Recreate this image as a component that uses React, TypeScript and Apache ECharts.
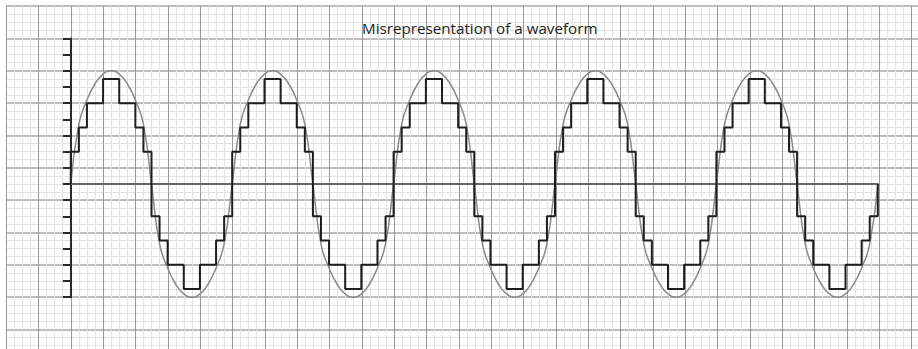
import React, { useEffect, useRef } from "react";
import * as echarts from "echarts";

const TITLE = "Misrepresentation of a waveform";

// Analog waveform, one value per minor grid division (x = 0..100), in vertical-tick units
const analogWave: number[] = [
  0, 3.7, 5.2, 6.2, 6.8, 7, 6.8, 6.2, 5.2, 3.7, 0, -3.7, -5.2, -6.2, -6.8, -7, -6.8, -6.2, -5.2, -3.7,
  0, 3.7, 5.2, 6.2, 6.8, 7, 6.8, 6.2, 5.2, 3.7, 0, -3.7, -5.2, -6.2, -6.8, -7, -6.8, -6.2, -5.2, -3.7,
  0, 3.7, 5.2, 6.2, 6.8, 7, 6.8, 6.2, 5.2, 3.7, 0, -3.7, -5.2, -6.2, -6.8, -7, -6.8, -6.2, -5.2, -3.7,
  0, 3.7, 5.2, 6.2, 6.8, 7, 6.8, 6.2, 5.2, 3.7, 0, -3.7, -5.2, -6.2, -6.8, -7, -6.8, -6.2, -5.2, -3.7,
  0, 3.7, 5.2, 6.2, 6.8, 7, 6.8, 6.2, 5.2, 3.7, 0, -3.7, -5.2, -6.2, -6.8, -7, -6.8, -6.2, -5.2, -3.7,
  0,
];

// Quantized (sample-and-hold) levels, held over each minor division
const quantizedLevels: number[] = [
  2, 3.5, 5, 5, 6.5, 6.5, 5, 5, 3.5, 2, -2, -3.5, -5, -5, -6.5, -6.5, -5, -5, -3.5, -2,
  2, 3.5, 5, 5, 6.5, 6.5, 5, 5, 3.5, 2, -2, -3.5, -5, -5, -6.5, -6.5, -5, -5, -3.5, -2,
  2, 3.5, 5, 5, 6.5, 6.5, 5, 5, 3.5, 2, -2, -3.5, -5, -5, -6.5, -6.5, -5, -5, -3.5, -2,
  2, 3.5, 5, 5, 6.5, 6.5, 5, 5, 3.5, 2, -2, -3.5, -5, -5, -6.5, -6.5, -5, -5, -3.5, -2,
  2, 3.5, 5, 5, 6.5, 6.5, 5, 5, 3.5, 2, -2, -3.5, -5, -5, -6.5, -6.5, -5, -5, -3.5, -2,
];
const quantizedStart = 0;
const quantizedEnd = 0;

const SAMPLE_COUNT = 100;
const Y_MIN = -7;
const Y_MAX = 9;

export default function App() {
  const ref = useRef<HTMLDivElement>(null);

  useEffect(() => {
    if (!ref.current) return;
    const chart = echarts.init(ref.current, undefined, { renderer: "svg" });

    const M = 8.0833; // px per minor division
    const originX = 70.8;
    const topTick = 38.5;

    const curveData = analogWave.map((v, i) => [i, v]);
    const stepData: number[][] = [[0, quantizedStart]];
    quantizedLevels.forEach((v, i) => stepData.push([i, v]));
    stepData.push([SAMPLE_COUNT, quantizedEnd]);

    const option: any = {
      animation: false,
      backgroundColor: "#ffffff",
      title: {
        text: TITLE,
        left: 362,
        top: 20.5,
        padding: 0,
        textStyle: {
          fontFamily: "Open Sans",
          fontSize: 15.2,
          fontWeight: "normal",
          color: "#1e1e1e",
        },
      },
      grid: [
        {
          left: originX - 8 * M,
          top: topTick - 4 * M,
          width: 116 * M,
          height: 44 * M,
          containLabel: false,
          outerBoundsMode: "none",
        },
        {
          left: originX,
          top: topTick,
          width: 807,
          height: 16 * 2 * M,
          containLabel: false,
          outerBoundsMode: "none",
        },
      ],
      xAxis: [
        {
          gridIndex: 0,
          type: "value",
          min: -8,
          max: 108,
          interval: 4,
          axisLine: { show: false },
          axisTick: { show: false },
          axisLabel: { show: false },
          splitLine: { show: true, lineStyle: { color: "#999999", width: 1 } },
          minorTick: { show: false, splitNumber: 4 },
          minorSplitLine: { show: true, lineStyle: { color: "#e2e2e2", width: 1 } },
        },
        {
          gridIndex: 1,
          type: "value",
          min: 0,
          max: SAMPLE_COUNT,
          axisLine: { show: true, onZero: true, lineStyle: { color: "#666666", width: 2 } },
          axisTick: { show: false },
          axisLabel: { show: false },
          splitLine: { show: false },
        },
      ],
      yAxis: [
        {
          gridIndex: 0,
          type: "value",
          min: -4,
          max: 40,
          interval: 4,
          axisLine: { show: false },
          axisTick: { show: false },
          axisLabel: { show: false },
          splitLine: { show: true, lineStyle: { color: "#bdbdbd", width: 2 } },
          minorTick: { show: false, splitNumber: 4 },
          minorSplitLine: { show: true, lineStyle: { color: "#e2e2e2", width: 1 } },
        },
        {
          gridIndex: 1,
          type: "value",
          min: Y_MIN,
          max: Y_MAX,
          interval: 1,
          axisLine: { show: true, onZero: false, lineStyle: { color: "#2a2a2a", width: 2 } },
          axisTick: { show: true, inside: false, length: 8, lineStyle: { color: "#2a2a2a", width: 2 } },
          axisLabel: { show: false },
          splitLine: { show: false },
        },
      ],
      series: [
        {
          name: "analog",
          type: "line",
          xAxisIndex: 1,
          yAxisIndex: 1,
          data: curveData,
          smooth: 0.5,
          showSymbol: false,
          symbol: "none",
          clip: false,
          lineStyle: { color: "#8a8a8a", width: 1.5 },
          z: 3,
        },
        {
          name: "quantized",
          type: "line",
          xAxisIndex: 1,
          yAxisIndex: 1,
          data: stepData,
          step: "end",
          showSymbol: false,
          symbol: "none",
          clip: false,
          lineStyle: { color: "#1e1e1e", width: 2 },
          z: 4,
        },
      ],
    };

    chart.setOption(option);
    return () => chart.dispose();
  }, []);

  return (
    <div
      ref={ref}
      style={{ position: "fixed", left: 0, top: 0, width: 918, height: 349, overflow: "hidden" }}
    />
  );
}
